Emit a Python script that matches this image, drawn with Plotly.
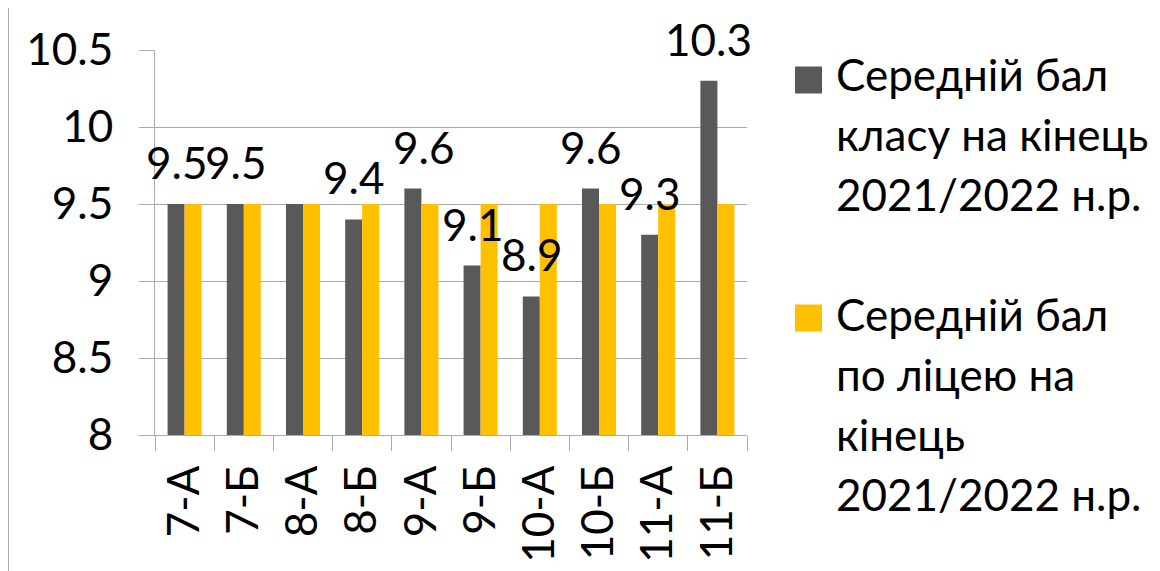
import plotly.graph_objects as go

categories = ["7-А", "7-Б", "8-А", "8-Б", "9-А", "9-Б", "10-А", "10-Б", "11-А", "11-Б"]
class_avg = [9.5, 9.5, 9.5, 9.4, 9.6, 9.1, 8.9, 9.6, 9.3, 10.3]
lyceum_avg = [9.5, 9.5, 9.5, 9.5, 9.5, 9.5, 9.5, 9.5, 9.5, 9.5]
series_names = ["Середній бал класу на кінець 2021/2022 н.р.",
                "Середній бал по ліцею на кінець 2021/2022 н.р."]
legend_lines = [["Середній бал", "класу на кінець", "2021/2022 н.р."],
                ["Середній бал", "по ліцею на", "кінець", "2021/2022 н.р."]]
y_ticks = [8, 8.5, 9, 9.5, 10, 10.5]
hidden_labels = ["8-А"]  # label not shown in the original chart

GRAY = "#595959"
GOLD = "#FFC000"
AXIS = "#ABABAB"
FONT = "Lato"
FS = 44

W, H = 1160, 571
OFF = 8  # page body margin
# plot area in page pixel coordinates
L, R, T, B = 155, 747, 50, 435

def px(x):
    return (x - L) / (R - L)

def py(y):
    return (B - y) / (B - T)

fig = go.Figure()
fig.add_trace(go.Bar(x=categories, y=class_avg, name=series_names[0],
                     marker=dict(color=GRAY, line=dict(width=0)), showlegend=False))
fig.add_trace(go.Bar(x=categories, y=lyceum_avg, name=series_names[1],
                     marker=dict(color=GOLD, line=dict(width=0)), showlegend=False))

annotations = []
# data labels above the class bars
for i, (c, v) in enumerate(zip(categories, class_avg)):
    if c in hidden_labels:
        continue
    xs = -8.5 + (11 if c == "9-А" else 0)
    annotations.append(dict(x=c, y=v, text=f"{v:g}", showarrow=False,
                            xanchor="center", yanchor="bottom", xshift=xs, yshift=14,
                            font=dict(family=FONT, size=FS, color="black")))

# manual legend
shapes = []
legend_colors = [GRAY, GOLD]
marker_centers = [80, 318]
line_starts = [74, 314]
LS = 60
for k in range(2):
    cy = marker_centers[k]
    shapes.append(dict(type="rect", xref="paper", yref="paper",
                       x0=px(795), x1=px(822), y0=py(cy + 13.5), y1=py(cy - 13.5),
                       fillcolor=legend_colors[k], line=dict(width=0)))
    for j, line in enumerate(legend_lines[k]):
        annotations.append(dict(x=px(834), y=py(line_starts[k] + j * LS), xref="paper", yref="paper",
                                text=line, showarrow=False, xanchor="left", yanchor="middle",
                                font=dict(family=FONT, size=FS, color="black")))

# outer chart border
shapes.append(dict(type="rect", xref="paper", yref="paper",
                   x0=px(8), x1=px(W + 30), y0=py(H + 30), y1=py(7),
                   line=dict(color=AXIS, width=2), fillcolor="rgba(0,0,0,0)", layer="below"))

fig.update_layout(
    width=W, height=H,
    margin=dict(l=L - OFF, r=W - (R - OFF), t=T - OFF, b=H - (B - OFF), autoexpand=False),
    paper_bgcolor="white", plot_bgcolor="white",
    barmode="group", bargap=0.425, bargroupgap=0,
    showlegend=False,
    font=dict(family=FONT, size=FS, color="black"),
    annotations=annotations, shapes=shapes,
)
fig.update_xaxes(type="category", tickangle=-90, showgrid=False,
                 range=[-0.5, len(categories) - 0.5], autorange=False,
                 showline=True, linecolor=AXIS, linewidth=1,
                 ticks="outside", ticklen=15, tickcolor=AXIS, tickson="boundaries",
                 ticklabelstandoff=12, tickfont=dict(family=FONT, size=FS, color="black"))
fig.update_yaxes(range=[8, 10.5], tickvals=y_ticks, ticktext=[f"{t:g}" for t in y_ticks],
                 showgrid=True, gridcolor=AXIS, gridwidth=1,
                 showline=True, linecolor=AXIS, linewidth=1,
                 ticks="outside", ticklen=15, tickcolor=AXIS,
                 ticklabelstandoff=17, zeroline=False,
                 tickfont=dict(family=FONT, size=FS, color="black"))

fig.write_html("out.html")
